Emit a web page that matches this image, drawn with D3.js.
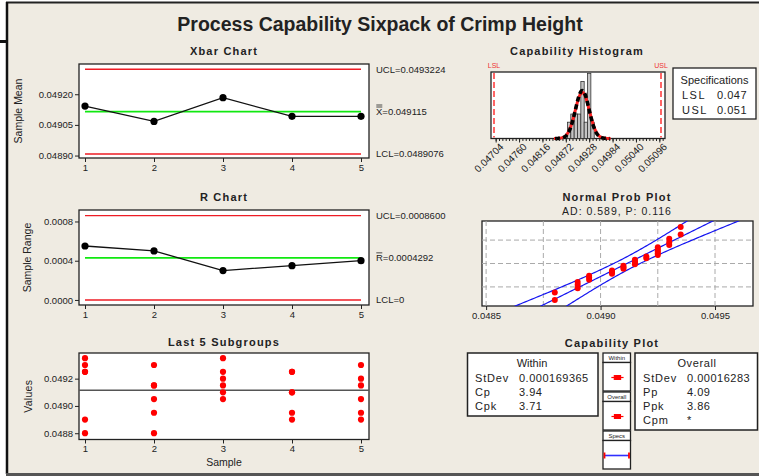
<!DOCTYPE html>
<html><head><meta charset="utf-8">
<script src="https://cdn.jsdelivr.net/npm/d3@7"></script>
<style>
body{margin:0;background:#fff;}
svg{display:block;font-family:"Liberation Sans",Arial,sans-serif;}
</style></head><body>
<svg id="c" width="759" height="476"></svg>
<script>
// ---------------- DATA ----------------
const chartTitle = "Process Capability Sixpack of Crimp Height";
const samples = [1, 2, 3, 4, 5];
const subgroups = [
  [0.04935, 0.04930, 0.04925, 0.04925, 0.04890, 0.04880],
  [0.04930, 0.04915, 0.04915, 0.04905, 0.04895, 0.04880],
  [0.04935, 0.04925, 0.04920, 0.04915, 0.04910, 0.04905],
  [0.04925, 0.04925, 0.04910, 0.04910, 0.04895, 0.04890],
  [0.04930, 0.04920, 0.04915, 0.04905, 0.04895, 0.04890]
];
const xbarMeans = [0.049142, 0.049067, 0.049183, 0.049092, 0.049092];
const ranges = [0.00055, 0.00050, 0.00030, 0.00035, 0.00040];
const xbarLimits = [0.0493224, 0.049115, 0.0489076];   // UCL, center, LCL
const xbarLimitText = ["UCL=0.0493224", "=0.049115", "LCL=0.0489076"];
const xbarTicks = [0.04890, 0.04905, 0.04920];
const rLimits = [0.00086, 0.0004292, 0];
const rLimitText = ["UCL=0.0008600", "=0.0004292", "LCL=0"];
const rTicks = [0, 0.0004, 0.0008];
const valueTicks = [0.0488, 0.0490, 0.0492];
const grandMean = 0.049115;
const histBinEdges = [0.04876, 0.04884, 0.04892, 0.04900, 0.04908, 0.04916, 0.04924, 0.04932, 0.04940];
const histTicks = [0.04704, 0.04760, 0.04816, 0.04872, 0.04928, 0.04984, 0.05040, 0.05096];
const specLimits = [0.047, 0.051];
const specLabels = ["LSL", "USL"];
const sdWithin = 0.000169365;
const sdOverall = 0.00016283;
const probTicks = [0.0485, 0.0490, 0.0495];
const probGridX = [0.0485, 0.04875, 0.0490, 0.04925, 0.0495];
const probGridP = [0.1, 0.5, 0.9];
const probSubtitle = "AD: 0.589, P: 0.116";
const withinRows = [["StDev", "0.000169365"], ["Cp", "3.94"], ["Cpk", "3.71"]];
const overallRows = [["StDev", "0.00016283"], ["Pp", "4.09"], ["Ppk", "3.86"], ["Cpm", "*"]];
const specRows = [["LSL", "0.047"], ["USL", "0.051"]];

// ---------------- HELPERS ----------------
const svg = d3.select("#c");
const BG = "#EFEBE2";
const RED = "#EE1C25", GREEN = "#10E810", BLUE = "#1515F0", INK = "#222";

svg.append("rect").attr("width", 759).attr("height", 476).attr("fill", "#fff");
svg.append("rect").attr("x", 7).attr("y", 2.5).attr("width", 760).attr("height", 471).attr("fill", BG);
svg.append("line").attr("x1", 6).attr("x2", 759).attr("y1", 2.5).attr("y2", 2.5).attr("stroke", "#222").attr("stroke-width", 2);
svg.append("line").attr("x1", 7).attr("x2", 7).attr("y1", 2).attr("y2", 474).attr("stroke", "#111").attr("stroke-width", 2.5);
svg.append("line").attr("x1", 6).attr("x2", 759).attr("y1", 474.5).attr("y2", 474.5).attr("stroke", "#555").attr("stroke-width", 3);
svg.append("line").attr("x1", 0).attr("x2", 7).attr("y1", 41.5).attr("y2", 41.5).attr("stroke", "#111").attr("stroke-width", 3);

function txt(x, y, s, o = {}) {
  return svg.append("text").attr("x", x).attr("y", y).text(s)
    .attr("font-size", o.size || 10).attr("fill", o.fill || INK)
    .attr("font-weight", o.bold ? "bold" : "normal")
    .attr("text-anchor", o.anchor || "start")
    .attr("letter-spacing", o.ls || 0);
}
function box(x0, y0, x1, y1, sw = 1.3) {
  svg.append("rect").attr("x", x0).attr("y", y0).attr("width", x1 - x0).attr("height", y1 - y0)
    .attr("fill", "#fff").attr("stroke", INK).attr("stroke-width", sw);
}
function styleAxis(g, size = 9.5) {
  g.select(".domain").remove();
  g.selectAll(".tick line").attr("stroke", INK);
  g.selectAll(".tick text").attr("font-size", size).attr("fill", INK)
    .attr("font-family", '"Liberation Sans",Arial,sans-serif');
}
function hline(x1, x2, y, color, w = 1.4) {
  svg.append("line").attr("x1", x1).attr("x2", x2).attr("y1", y).attr("y2", y).attr("stroke", color).attr("stroke-width", w);
}

txt(380, 31, chartTitle, { size: 19.5, bold: true, anchor: "middle" });

const L = 79, R = 369;
const xS = d3.scaleLinear().domain([1, 5]).range([85, 361]);

// ---------------- XBAR ----------------
{
  const y0 = 64, y1 = 158;
  const y = d3.scaleLinear().domain([0.048888, 0.049348]).range([y1, y0]);
  txt(224, 55, "Xbar Chart", { size: 11, bold: true, anchor: "middle", ls: 1.2 });
  box(L, y0, R, y1);
  hline(xS(1), xS(5), y(xbarLimits[0]), RED);
  hline(xS(1), xS(5), y(xbarLimits[2]), RED);
  hline(xS(1), xS(5), y(xbarLimits[1]), GREEN, 1.6);
  svg.append("path").datum(xbarMeans).attr("fill", "none").attr("stroke", "#111").attr("stroke-width", 1.3)
    .attr("d", d3.line().x((d, i) => xS(samples[i])).y(d => y(d)));
  svg.selectAll(null).data(xbarMeans).join("circle").attr("cx", (d, i) => xS(samples[i])).attr("cy", d => y(d)).attr("r", 3.6).attr("fill", "#000");
  const ga = svg.append("g").attr("transform", `translate(${L},0)`).call(d3.axisLeft(y).tickValues(xbarTicks).tickFormat(d3.format(".5f")).tickSize(4).tickPadding(2));
  styleAxis(ga);
  const gb = svg.append("g").attr("transform", `translate(0,${y1})`).call(d3.axisBottom(xS).tickValues(samples).tickFormat(d3.format("d")).tickSize(4).tickPadding(2));
  styleAxis(gb);
  txt(376, y(xbarLimits[0]) + 3.5, xbarLimitText[0], { size: 9.5 });
  txt(376, y(xbarLimits[1]) + 3.5, "X" + xbarLimitText[1], { size: 9.5 });
  hline(376.3, 382.3, y(xbarLimits[1]) - 4.6, INK, 0.8);
  hline(376.3, 382.3, y(xbarLimits[1]) - 6.6, INK, 0.8);
  txt(376, y(xbarLimits[2]) + 3.5, xbarLimitText[2], { size: 9.5 });
  txt(0, 0, "Sample Mean", { size: 10.5, anchor: "middle" }).attr("transform", `translate(22,${(y0 + y1) / 2}) rotate(-90)`);
}

// ---------------- R CHART ----------------
{
  const y0 = 210, y1 = 305;
  const y = d3.scaleLinear().domain([-0.0000513, 0.000917]).range([y1, y0]);
  txt(224, 201, "R Chart", { size: 11, bold: true, anchor: "middle", ls: 1.2 });
  box(L, y0, R, y1);
  hline(xS(1), xS(5), y(rLimits[0]), RED);
  hline(xS(1), xS(5), y(rLimits[2]), RED);
  hline(xS(1), xS(5), y(rLimits[1]), GREEN, 1.6);
  svg.append("path").datum(ranges).attr("fill", "none").attr("stroke", "#111").attr("stroke-width", 1.3)
    .attr("d", d3.line().x((d, i) => xS(samples[i])).y(d => y(d)));
  svg.selectAll(null).data(ranges).join("circle").attr("cx", (d, i) => xS(samples[i])).attr("cy", d => y(d)).attr("r", 3.6).attr("fill", "#000");
  const ga = svg.append("g").attr("transform", `translate(${L},0)`).call(d3.axisLeft(y).tickValues(rTicks).tickFormat(d3.format(".4f")).tickSize(4).tickPadding(2));
  styleAxis(ga);
  const gb = svg.append("g").attr("transform", `translate(0,${y1})`).call(d3.axisBottom(xS).tickValues(samples).tickFormat(d3.format("d")).tickSize(4).tickPadding(2));
  styleAxis(gb);
  txt(376, y(rLimits[0]) + 3.5, rLimitText[0], { size: 9.5 });
  txt(376, y(rLimits[1]) + 3.5, "R" + rLimitText[1], { size: 9.5 });
  hline(376.3, 382.3, y(rLimits[1]) - 5, INK, 0.8);
  txt(376, y(rLimits[2]) + 3.5, rLimitText[2], { size: 9.5 });
  txt(0, 0, "Sample Range", { size: 10.5, anchor: "middle" }).attr("transform", `translate(31,${(y0 + y1) / 2}) rotate(-90)`);
}

// ---------------- LAST 5 SUBGROUPS ----------------
{
  const y0 = 353, y1 = 439.5;
  const y = d3.scaleLinear().domain([0.048754, 0.049388]).range([y1, y0]);
  txt(224, 346, "Last 5 Subgroups", { size: 11, bold: true, anchor: "middle", ls: 1.2 });
  box(L, y0, R, y1);
  hline(L, R, y(grandMean), "#555", 1.3);
  subgroups.forEach((g, i) => {
    svg.selectAll(null).data(g).join("circle").attr("cx", xS(samples[i])).attr("cy", d => y(d)).attr("r", 3.1).attr("fill", "#F00");
  });
  const ga = svg.append("g").attr("transform", `translate(${L},0)`).call(d3.axisLeft(y).tickValues(valueTicks).tickFormat(d3.format(".4f")).tickSize(4).tickPadding(2));
  styleAxis(ga);
  const gb = svg.append("g").attr("transform", `translate(0,${y1})`).call(d3.axisBottom(xS).tickValues(samples).tickFormat(d3.format("d")).tickSize(4).tickPadding(2));
  styleAxis(gb);
  txt(224, 466, "Sample", { size: 10.5, anchor: "middle" });
  txt(0, 0, "Values", { size: 10.5, anchor: "middle", ls: 0.3 }).attr("transform", `translate(32,${(y0 + y1) / 2}) rotate(-90)`);
}

// ---------------- CAPABILITY HISTOGRAM ----------------
const allValues = subgroups.flat();
const N = allValues.length;
const mean = d3.mean(allValues);
{
  const x0 = 491, x1 = 665, y0 = 72, y1 = 138.5;
  const x = d3.scaleLinear().domain([0.0469281, 0.0510958]).range([x0, x1]);
  txt(577, 55, "Capability Histogram", { size: 11, bold: true, anchor: "middle", ls: 1.2 });
  box(x0, y0, x1, y1);
  const bins = d3.bin().domain([histBinEdges[0], histBinEdges[histBinEdges.length - 1]]).thresholds(histBinEdges.slice(1, -1))(allValues);
  const y = d3.scaleLinear().domain([0, 8.16]).range([y1, y0]);
  svg.selectAll(null).data(bins).join("rect")
    .attr("x", d => x(d.x0)).attr("width", d => x(d.x1) - x(d.x0))
    .attr("y", d => y(d.length)).attr("height", d => y(0) - y(d.length))
    .attr("fill", "#c4c4c4").attr("stroke", "#333").attr("stroke-width", 0.8);
  const w = histBinEdges[1] - histBinEdges[0];
  const pdf = (v, s) => Math.exp(-0.5 * ((v - mean) / s) ** 2) / (s * Math.sqrt(2 * Math.PI));
  const curve = s => d3.range(0, 161).map(k => mean - 4 * s + k * 8 * s / 160).map(v => [x(v), y(N * w * pdf(v, s))]);
  svg.append("path").attr("d", d3.line()(curve(sdWithin))).attr("fill", "none").attr("stroke", "#F22").attr("stroke-width", 3);
  svg.append("path").attr("d", d3.line()(curve(sdOverall))).attr("fill", "none").attr("stroke", "#000").attr("stroke-width", 3.6).attr("stroke-dasharray", "5,3");
  specLimits.forEach((s, i) => {
    svg.append("line").attr("x1", x(s)).attr("x2", x(s)).attr("y1", y0 + 1).attr("y2", y1 - 1)
      .attr("stroke", "#F33").attr("stroke-width", 1.5).attr("stroke-dasharray", "6,3");
    txt(x(s), 68, specLabels[i], { size: 7, fill: "#E33", anchor: "middle" });
  });
  const minor = d3.range(0, 53).map(k => 0.04704 + k * 0.00008).filter(v => v <= 0.0510958);
  const gm = svg.append("g").attr("transform", `translate(0,${y1})`).call(d3.axisBottom(x).tickValues(minor).tickFormat("").tickSize(2.5));
  styleAxis(gm);
  const ga = svg.append("g").attr("transform", `translate(0,${y1})`).call(d3.axisBottom(x).tickValues(histTicks).tickFormat(d3.format(".5f")).tickSize(4));
  styleAxis(ga, 10);
  ga.selectAll(".tick text").attr("text-anchor", "end").attr("transform", "translate(3,4) rotate(-45)").attr("dy", "0.3em").attr("y", 4);
  // specifications box
  box(673, 68, 756, 119, 1.3);
  txt(714.5, 84, "Specifications", { size: 11, anchor: "middle" });
  specRows.forEach((r, i) => {
    txt(682, 99 + i * 15, r[0], { size: 11, ls: 1.5 });
    txt(747, 99 + i * 15, r[1], { size: 11, anchor: "end", ls: 0.5 });
  });
}

// ---------------- NORMAL PROB PLOT ----------------
function invNorm(p) {
  const a = [-3.969683028665376e+01, 2.209460984245205e+02, -2.759285104469687e+02, 1.383577518672690e+02, -3.066479806614716e+01, 2.506628277459239e+00];
  const b = [-5.447609879822406e+01, 1.615858368580409e+02, -1.556989798598866e+02, 6.680131188771972e+01, -1.328068155288572e+01];
  const c = [-7.784894002430293e-03, -3.223964580411365e-01, -2.400758277161838e+00, -2.549732539343734e+00, 4.374664141464968e+00, 2.938163982698783e+00];
  const d = [7.784695709041462e-03, 3.224671290700398e-01, 2.445134137142996e+00, 3.754408661907416e+00];
  const pl = 0.02425; let q, r;
  if (p < pl) { q = Math.sqrt(-2 * Math.log(p)); return (((((c[0] * q + c[1]) * q + c[2]) * q + c[3]) * q + c[4]) * q + c[5]) / ((((d[0] * q + d[1]) * q + d[2]) * q + d[3]) * q + 1); }
  if (p > 1 - pl) { q = Math.sqrt(-2 * Math.log(1 - p)); return -(((((c[0] * q + c[1]) * q + c[2]) * q + c[3]) * q + c[4]) * q + c[5]) / ((((d[0] * q + d[1]) * q + d[2]) * q + d[3]) * q + 1); }
  q = p - 0.5; r = q * q;
  return (((((a[0] * r + a[1]) * r + a[2]) * r + a[3]) * r + a[4]) * r + a[5]) * q / (((((b[0] * r + b[1]) * r + b[2]) * r + b[3]) * r + b[4]) * r + 1);
}
{
  const x0 = 482, x1 = 753, y0 = 221, y1 = 306;
  const x = d3.scaleLinear().domain([0.048482, 0.049666]).range([x0, x1]);
  const y = d3.scaleLinear().domain([-2.326, 2.326]).range([y1, y0]);
  txt(617, 201, "Normal Prob Plot", { size: 11, bold: true, anchor: "middle", ls: 1.2 });
  txt(617, 215, probSubtitle, { size: 10.5, anchor: "middle", ls: 1 });
  box(x0, y0, x1, y1);
  svg.append("clipPath").attr("id", "npclip").append("rect").attr("x", x0).attr("y", y0).attr("width", x1 - x0).attr("height", y1 - y0);
  const g = svg.append("g").attr("clip-path", "url(#npclip)");
  probGridX.forEach(v => g.append("line").attr("x1", x(v)).attr("x2", x(v)).attr("y1", y0).attr("y2", y1).attr("stroke", "#aaa").attr("stroke-dasharray", "5,3"));
  probGridP.forEach(p => g.append("line").attr("x1", x0).attr("x2", x1).attr("y1", y(invNorm(p))).attr("y2", y(invNorm(p))).attr("stroke", "#aaa").attr("stroke-dasharray", "5,3"));
  const sorted = allValues.slice().sort(d3.ascending);
  const sd = d3.deviation(allValues);
  const zs = d3.range(-2.6, 2.61, 0.05);
  const band = k => d3.line()(zs.map(z => [x(mean + z * sd + k * 1.96 * sd * Math.sqrt(1 / N + z * z / (2 * (N - 1)))), y(z)]));
  [-1, 0, 1].forEach(k => g.append("path").attr("d", band(k)).attr("fill", "none").attr("stroke", BLUE).attr("stroke-width", 1.2));
  g.selectAll(null).data(sorted).join("circle")
    .attr("cx", d => x(d)).attr("cy", (d, i) => y(invNorm((i + 1 - 0.3) / (N + 0.4)))).attr("r", 3).attr("fill", "#F00");
  const ga = svg.append("g").attr("transform", `translate(0,${y1})`).call(d3.axisBottom(x).tickValues(probTicks).tickFormat(d3.format(".4f")).tickSize(4).tickPadding(2));
  styleAxis(ga);
}

// ---------------- CAPABILITY PLOT ----------------
{
  txt(612, 347, "Capability Plot", { size: 11, bold: true, anchor: "middle", ls: 1.2 });
  box(467.5, 353, 598, 416, 1.5);
  txt(532, 367, "Within", { size: 11, anchor: "middle" });
  withinRows.forEach((r, i) => {
    txt(475, 382 + i * 14, r[0], { size: 11, ls: 0.8 });
    txt(519, 382 + i * 14, r[1], { size: 11, ls: 0.5 });
  });
  box(635, 353, 757.5, 430, 1.5);
  txt(697, 367, "Overall", { size: 11, anchor: "middle", ls: 0.6 });
  overallRows.forEach((r, i) => {
    txt(643, 382 + i * 14, r[0], { size: 11, ls: 0.8 });
    txt(687, 382 + i * 14, r[1], { size: 11, ls: 0.5 });
  });
  const mx0 = 603, mx1 = 630.5;
  const mini = d3.scaleLinear().domain(specLimits).range([mx0 + 1.5, mx1 - 1.5]);
  const groups = [["Within", 353, sdWithin], ["Overall", 392, sdOverall], ["Specs", 431, null]];
  groups.forEach(([lab, top, s]) => {
    svg.append("rect").attr("x", mx0).attr("y", top).attr("width", mx1 - mx0).attr("height", 9.5).attr("fill", "#fff").attr("stroke", INK).attr("stroke-width", 1.3);
    txt((mx0 + mx1) / 2, top + 7.3, lab, { size: 6, anchor: "middle" });
    svg.append("rect").attr("x", mx0).attr("y", top + 9.5).attr("width", mx1 - mx0).attr("height", 28.5).attr("fill", "#fff").attr("stroke", INK).attr("stroke-width", 1.3);
    const cy = top + 9.5 + 15;
    if (s) {
      const ks = [-3, -2, -1, 0, 1, 2, 3];
      hline(mini(mean - 3 * s) - 3, mini(mean + 3 * s) + 3, cy, "#F00", 1.2);
      ks.forEach(k => svg.append("line").attr("x1", mini(mean + k * s)).attr("x2", mini(mean + k * s)).attr("y1", cy - 2.5).attr("y2", cy + 2.5).attr("stroke", "#F00").attr("stroke-width", 1.2));
    } else {
      hline(mini(specLimits[0]), mini(specLimits[1]), cy, "#3030FF", 1.6);
      specLimits.forEach(v => svg.append("line").attr("x1", mini(v)).attr("x2", mini(v)).attr("y1", cy - 3).attr("y2", cy + 3).attr("stroke", "#F00").attr("stroke-width", 1.8));
    }
  });
}
</script>
</body></html>
